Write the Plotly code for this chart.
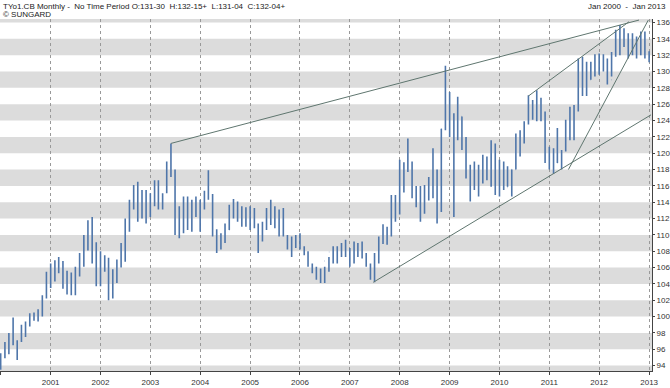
import plotly.graph_objects as go
import pandas as pd

# ---- data (monthly OHLC, Jan 2000 - Jan 2013) ----
months = pd.date_range("2000-01-01", periods=157, freq="MS")

highs = [
    95.5, 96.9, 98.0, 99.9, 97.1, 99.0, 99.4, 100.4, 100.5, 100.9, 102.6, 105.5,
    106.5, 106.9, 107.3, 106.8, 105.6, 105.4, 106.1, 107.8, 110.0, 111.8, 112.2, 109.1,
    108.0, 107.5, 107.2, 105.8, 107.0, 109.0, 112.0, 114.3, 116.1, 116.5, 115.5, 115.5,
    115.1, 116.7, 116.7, 115.1, 119.0, 121.2, 118.0, 113.5, 114.7, 114.7, 114.3, 114.7,
    114.3, 115.4, 117.9, 115.0, 110.7, 110.2, 111.4, 113.7, 114.4, 114.1, 113.5, 113.4,
    113.5, 113.3, 111.4, 111.6, 113.3, 114.3, 113.5, 113.1, 113.3, 110.0, 109.8, 110.0,
    110.2, 108.6, 108.0, 106.5, 106.1, 105.9, 106.1, 107.3, 108.6, 108.6, 109.0, 109.4,
    108.4, 109.2, 109.0, 109.2, 107.8, 106.5, 107.8, 109.8, 111.3, 111.0, 114.9, 114.9,
    119.2, 118.9, 121.8, 119.0, 116.0, 116.0, 116.1, 117.1, 120.6, 118.0, 123.0, 130.7,
    127.5, 124.9, 126.9, 124.5, 122.0, 118.6, 119.0, 118.6, 119.8, 119.6, 121.6, 121.2,
    119.2, 119.0, 118.4, 118.0, 122.4, 122.8, 123.9, 127.1, 126.5, 127.7, 126.8, 125.1,
    120.8, 120.6, 123.1, 120.4, 124.1, 125.7, 125.9, 131.6, 131.8, 131.2, 131.2, 132.1,
    132.2, 132.1, 131.6, 132.4, 135.1, 135.7, 135.3, 134.7, 134.7, 134.3, 134.9, 134.9,
    132.48,
]
lows = [
    93.5, 94.9, 95.4, 96.5, 94.7, 96.9, 97.5, 98.8, 99.5, 99.4, 100.0, 102.2,
    103.5, 104.3, 105.3, 103.4, 102.7, 102.6, 102.6, 104.9, 106.1, 108.1, 106.5, 103.7,
    103.7, 105.5, 102.0, 102.2, 104.1, 106.0, 106.7, 110.4, 113.1, 111.6, 112.0, 111.4,
    112.2, 113.5, 113.1, 113.1, 115.1, 117.1, 110.0, 109.6, 110.2, 110.6, 110.4, 112.2,
    110.4, 113.1, 114.3, 109.8, 107.8, 108.2, 109.0, 110.6, 112.0, 111.6, 111.0, 111.0,
    110.6, 110.8, 107.8, 109.2, 110.6, 111.2, 110.8, 109.8, 109.8, 108.2, 107.3, 108.4,
    108.2, 107.5, 106.1, 105.3, 104.5, 104.1, 104.1, 105.5, 106.5, 106.5, 107.3, 107.3,
    106.1, 106.5, 107.3, 107.1, 106.1, 104.5, 104.2, 106.5, 108.9, 108.8, 109.8, 111.6,
    112.5, 115.2, 117.7, 114.5, 113.4, 111.6, 112.6, 114.2, 114.5, 111.4, 112.8, 122.8,
    122.0, 112.2, 121.6, 120.4, 116.9, 114.1, 115.5, 114.7, 116.3, 116.7, 115.9, 114.9,
    114.7, 115.5, 115.9, 114.7, 118.0, 119.6, 121.2, 123.5, 124.1, 123.9, 123.9, 118.8,
    118.0, 117.5, 118.8, 118.0, 120.2, 121.6, 121.6, 125.1, 127.0, 127.0, 129.0, 129.4,
    129.6, 130.0, 128.4, 129.4, 131.8, 132.0, 133.0, 131.6, 132.0, 131.6, 132.0, 131.6,
    131.13,
]
opens = [
    94.5, 95.0, 96.0, 97.3, 97.0, 97.0, 97.8, 98.9, 99.8, 100.0, 100.6, 102.4,
    104.8, 105.0, 105.5, 105.5, 104.0, 103.4, 103.6, 105.3, 106.3, 108.3, 110.5, 106.9,
    105.5, 105.8, 106.4, 103.0, 105.0, 106.2, 107.6, 110.8, 114.0, 115.3, 113.6, 113.0,
    114.5, 113.8, 115.0, 114.5, 115.3, 118.5, 117.9, 111.5, 112.0, 114.3, 111.8, 112.5,
    113.0, 113.8, 115.0, 114.9, 110.5, 109.5, 109.8, 110.6, 113.1, 112.9, 113.3, 111.5,
    112.5, 112.3, 111.0, 110.0, 111.2, 112.8, 112.0, 111.0, 112.2, 109.9, 108.8, 109.3,
    109.8, 108.5, 107.9, 106.3, 105.6, 105.3, 105.2, 106.8, 107.9, 108.3, 108.3, 108.8,
    107.8, 107.7, 108.9, 108.2, 107.6, 106.3, 105.7, 107.0, 109.2, 109.5, 110.0, 112.8,
    112.8, 115.5, 117.8, 117.9, 115.2, 114.0, 114.5, 114.9, 115.5, 115.8, 114.5, 123.0,
    125.3, 122.6, 121.8, 124.5, 121.8, 118.0, 116.2, 116.3, 117.5, 118.6, 118.3, 120.0,
    115.6, 117.2, 117.6, 115.8, 118.0, 119.8, 121.9, 123.6, 125.8, 125.2, 124.6, 124.3,
    119.9, 119.3, 118.8, 119.8, 120.3, 122.9, 122.0, 125.3, 129.9, 130.3, 129.0, 130.0,
    131.4, 130.9, 130.6, 129.0, 132.0, 134.5, 133.8, 134.5, 133.7, 132.8, 133.2, 133.7,
    131.94,
]
closes = [
    95.0, 96.0, 97.3, 97.0, 96.5, 97.8, 98.5, 99.8, 100.0, 100.6, 101.6, 104.8,
    105.0, 105.5, 105.5, 104.0, 103.4, 103.6, 105.3, 106.3, 107.8, 110.5, 106.9, 105.5,
    105.8, 106.4, 103.0, 105.0, 105.6, 107.6, 110.8, 114.0, 115.3, 113.6, 113.0, 114.5,
    113.8, 115.0, 114.5, 114.9, 118.5, 117.9, 111.5, 112.0, 114.3, 111.8, 112.5, 113.0,
    113.8, 115.0, 114.9, 110.5, 109.5, 109.8, 110.6, 113.1, 112.9, 113.3, 111.5, 112.5,
    112.3, 111.0, 110.0, 111.2, 112.8, 112.0, 111.0, 112.2, 109.9, 108.8, 109.3, 109.8,
    108.5, 107.9, 106.3, 105.6, 105.3, 105.2, 106.8, 107.9, 108.3, 108.3, 108.8, 107.8,
    107.7, 108.9, 108.2, 107.6, 106.3, 105.7, 107.0, 109.2, 109.5, 110.0, 112.8, 112.8,
    115.5, 117.8, 117.9, 115.2, 114.0, 114.5, 114.9, 115.5, 115.8, 114.5, 123.0, 125.3,
    122.6, 121.8, 124.5, 121.8, 118.0, 116.2, 116.3, 117.5, 118.6, 118.3, 120.0, 115.6,
    117.2, 117.6, 115.8, 118.0, 119.8, 121.9, 123.6, 125.8, 125.2, 124.6, 124.3, 119.9,
    119.3, 118.8, 119.8, 120.3, 122.9, 122.0, 125.3, 129.9, 130.3, 129.0, 130.0, 131.4,
    130.9, 130.6, 129.0, 132.0, 134.5, 133.8, 134.5, 133.7, 132.8, 133.2, 133.7, 132.5,
    132.14,
]

# trend lines drawn on the chart: (start date, start value, end date, end value)
trend_starts_x = ["2003-06-01", "2010-08-01", "2011-05-21", "2007-06-22"]
trend_starts_y = [121.2, 127.0, 118.0, 104.2]
trend_ends_x = ["2012-10-19", "2012-08-07", "2012-12-26", "2013-01-15"]
trend_ends_y = [136.3, 136.1, 136.3, 124.7]

y_ticks = list(range(94, 137, 2))
band_lows = list(range(92, 140, 4))
x_range = ["1999-12-27", "2013-01-22"]
y_range = [93.34, 136.43]

title_text = "TYo1.CB Monthly -  No Time Period O:131-30  H:132-15+  L:131-04  C:132-04+"
source_text = "© SUNGARD"
period_text = "Jan 2000  -  Jan 2013"

# ---- figure ----
W, H = 670, 388
ml, mr, mt, mb = 0, 18, 19, 17
pw, ph = W - ml - mr, H - mt - mb

fig = go.Figure()

fig.add_trace(go.Ohlc(
    x=months, open=opens, high=highs, low=lows, close=closes,
    increasing=dict(line=dict(color="#4f76aa", width=1.6)),
    decreasing=dict(line=dict(color="#4f76aa", width=1.6)),
    tickwidth=0.07, hoverinfo="skip", showlegend=False,
))

for x0, y0, x1, y1 in zip(trend_starts_x, trend_starts_y, trend_ends_x, trend_ends_y):
    fig.add_trace(go.Scatter(
        x=[x0, x1], y=[y0, y1], mode="lines",
        line=dict(color="#5f766f", width=1), hoverinfo="skip", showlegend=False,
    ))

shapes = []
for b in band_lows:
    shapes.append(dict(type="rect", xref="paper", yref="y", x0=0, x1=1, y0=b, y1=b + 2,
                       fillcolor="#dcdcdc", line=dict(width=0), layer="below"))
fig.update_layout(shapes=shapes)

def px_x(p):
    return (p - ml) / pw

def px_y(p):
    return (H - mb - p) / ph

font = "Liberation Sans"
fig.add_annotation(x=px_x(1), y=px_y(6), xref="paper", yref="paper", text=title_text,
                   showarrow=False, xanchor="left", yanchor="middle",
                   font=dict(family=font, size=8, color="#222"))
fig.add_annotation(x=px_x(1), y=px_y(15), xref="paper", yref="paper", text=source_text,
                   showarrow=False, xanchor="left", yanchor="middle",
                   font=dict(family=font, size=8, color="#222"))
fig.add_annotation(x=px_x(668), y=px_y(6), xref="paper", yref="paper", text=period_text,
                   showarrow=False, xanchor="right", yanchor="middle",
                   font=dict(family=font, size=8, color="#222"))

fig.update_layout(
    width=W, height=H,
    margin=dict(l=ml, r=mr, t=mt, b=mb, pad=0),
    paper_bgcolor="white", plot_bgcolor="white",
    xaxis=dict(
        type="date", range=x_range, rangeslider=dict(visible=False),
        tick0="2001-01-01", dtick="M12", tickformat="%Y",
        showgrid=True, gridcolor="#999999", griddash="dot", gridwidth=1,
        showline=True, linecolor="#444", linewidth=1,
        ticks="outside", ticklen=3, tickcolor="#444",
        tickfont=dict(family=font, size=8, color="#333"),
        zeroline=False, fixedrange=True,
    ),
    yaxis=dict(
        side="right", range=y_range, tickvals=y_ticks,
        showgrid=False, zeroline=False,
        showline=True, linecolor="#444", linewidth=1,
        ticks="outside", ticklen=2, tickcolor="#444",
        tickfont=dict(family=font, size=8, color="#333"),
        fixedrange=True,
    ),
)

fig.write_html("out.html", config={"displayModeBar": False},
               post_script="document.body.style.margin='0';document.body.style.overflow='hidden';")
